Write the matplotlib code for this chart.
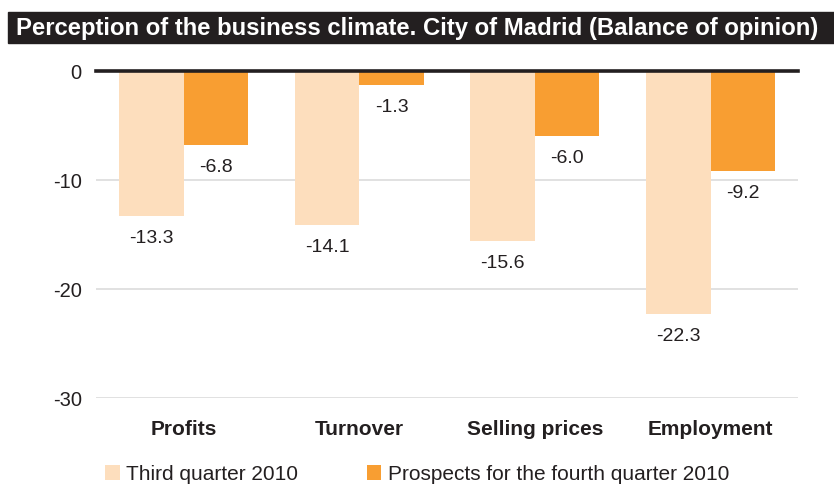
import matplotlib
matplotlib.use("Agg")
import matplotlib.pyplot as plt
from matplotlib.patches import Rectangle, Patch

categories = ["Profits", "Turnover", "Selling prices", "Employment"]
third_q = [-13.3, -14.1, -15.6, -22.3]
prospects = [-6.8, -1.3, -6.0, -9.2]
series_labels = ["Third quarter 2010", "Prospects for the fourth quarter 2010"]
yticks = [0, -10, -20, -30]
title = "Perception of the business climate. City of Madrid (Balance of opinion)"

LIGHT = "#fddebd"
DARK = "#f89e32"
INK = "#231f20"

plt.rcParams['font.family'] = ['Liberation Sans', 'DejaVu Sans']

fig = plt.figure(figsize=(8.34, 4.86), dpi=100)
ax = fig.add_axes([0.1148, 0.1805, 0.8426, 0.6734])

x = list(range(len(categories)))
w = 0.367
ax.bar([i - w / 2 for i in x], third_q, width=w, color=LIGHT, zorder=2)
ax.bar([i + w / 2 for i in x], prospects, width=w, color=DARK, zorder=2)

for i in x:
    ax.annotate(f"{third_q[i]:.1f}", (i - w / 2, third_q[i]), xytext=(0, -10),
                textcoords="offset points", ha="center", va="top",
                fontsize=14, color=INK)
    ax.annotate(f"{prospects[i]:.1f}", (i + w / 2, prospects[i]), xytext=(0, -10),
                textcoords="offset points", ha="center", va="top",
                fontsize=14, color=INK)

ax.set_xlim(-0.5, len(categories) - 0.5)
ax.set_ylim(-30, 0)
ax.set_yticks(yticks)
ax.set_yticklabels([str(t) for t in yticks])
ax.set_xticks(x)
ax.set_xticklabels(categories, fontweight="bold", fontsize=15, color=INK)
ax.tick_params(axis="y", length=0, pad=10, labelsize=14.5, labelcolor=INK)
ax.tick_params(axis="x", length=0, pad=16)
for t in yticks[1:]:
    ax.axhline(t, color="#dcdcdc", lw=1.2, zorder=1)
ax.axhline(0, color=INK, lw=2.6, zorder=3, clip_on=False)
for s in ax.spines.values():
    s.set_visible(False)

# title bar
fig.patches.append(Rectangle((8 / 834, 0.9122), 1.0, 0.0638, transform=fig.transFigure,
                             color=INK, zorder=0))
ttl = fig.text(16 / 834, (486 - 35) / 486, title, color="white", fontsize=16,
               fontweight="bold", va="baseline", ha="left")
renderer = fig.canvas.get_renderer()
target_w = 800.0
cur_w = ttl.get_window_extent(renderer).width
ttl.set_fontsize(16 * target_w / cur_w)

handles = [Patch(facecolor=LIGHT), Patch(facecolor=DARK)]
fig.legend(handles, series_labels, loc="center left", bbox_to_anchor=(0.126, 0.024),
           ncol=2, frameon=False, fontsize=15, handlelength=0.7, handleheight=0.7,
           handletextpad=0.3, columnspacing=3.3, borderpad=0, borderaxespad=0,
           labelcolor=INK)

fig.savefig("out.png", dpi=100)
